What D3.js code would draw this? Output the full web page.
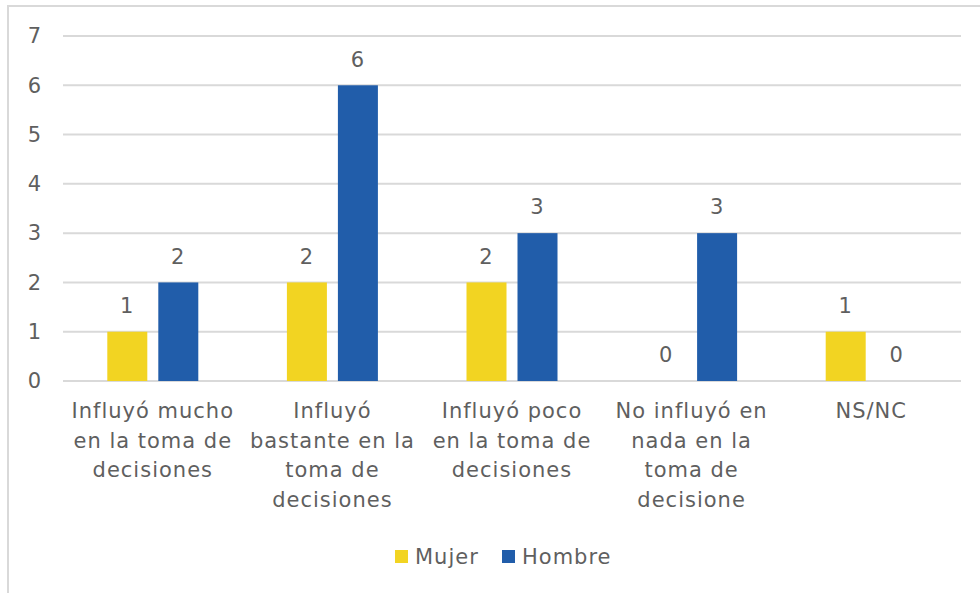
<!DOCTYPE html>
<html>
<head>
<meta charset="utf-8">
<script src="https://cdn.jsdelivr.net/npm/d3@7"></script>
<style>
  body { margin: 0; background: #fff; }
  text { font-family: "DejaVu Sans", sans-serif; fill: #5f5f5f; letter-spacing: 1px; }
</style>
</head>
<body>
<div id="chart-area"></div>
<script>
const categories = [
  ["Influyó mucho", "en la toma de", "decisiones"],
  ["Influyó", "bastante en la", "toma de", "decisiones"],
  ["Influyó poco", "en la toma de", "decisiones"],
  ["No influyó en", "nada en la", "toma de", "decisione"],
  ["NS/NC"]
]
const series = ["Mujer", "Hombre"]
const mujer = [1, 2, 2, 0, 1]
const hombre = [2, 6, 3, 3, 0]
const yTicks = [0, 1, 2, 3, 4, 5, 6, 7]
const colors = { Mujer: "#F2D422", Hombre: "#215DAA" }

const WIDTH = 980, HEIGHT = 593
const PLOT = { LEFT: 63, RIGHT: 961, TOP: 36, BOTTOM: 381 }
const FONT = "21px"

const svg = d3.select("#chart-area").append("svg")
  .attr("width", WIDTH)
  .attr("height", HEIGHT)

// chart border
svg.append("rect")
  .attr("x", 8).attr("y", 6)
  .attr("width", 1000).attr("height", 700)
  .attr("fill", "none")
  .attr("stroke", "#d9d9d9")
  .attr("stroke-width", 2)

const idx = d3.range(categories.length)

// Scales
const x0 = d3.scaleBand()
  .domain(idx)
  .range([PLOT.LEFT, PLOT.RIGHT])
  .paddingInner(0.4933)
  .paddingOuter(0.4933 / 2)

const x1 = d3.scaleBand()
  .domain(series)
  .range([0, x0.bandwidth()])
  .paddingInner(0.2157)

const y = d3.scaleLinear()
  .domain([0, 7])
  .range([PLOT.BOTTOM, PLOT.TOP])

// Gridlines
svg.append("g").selectAll("line")
  .data(yTicks)
  .enter().append("line")
  .attr("x1", PLOT.LEFT)
  .attr("x2", PLOT.RIGHT)
  .attr("y1", d => y(d))
  .attr("y2", d => y(d))
  .attr("stroke", "#d9d9d9")
  .attr("stroke-width", 2)

// Y tick labels
svg.append("g").selectAll("text")
  .data(yTicks)
  .enter().append("text")
  .attr("x", 42)
  .attr("y", d => y(d))
  .attr("dy", "0.35em")
  .attr("text-anchor", "end")
  .attr("font-size", FONT)
  .text(d => d)

// Bars
const rows = idx.map(i => ({ i, values: [
  { key: "Mujer", value: mujer[i] },
  { key: "Hombre", value: hombre[i] }
] }))

const groups = svg.append("g").selectAll("g")
  .data(rows)
  .enter().append("g")
  .attr("transform", d => `translate(${x0(d.i)}, 0)`)

groups.selectAll("rect")
  .data(d => d.values)
  .enter().append("rect")
  .attr("x", d => x1(d.key))
  .attr("y", d => y(d.value))
  .attr("width", x1.bandwidth())
  .attr("height", d => y(0) - y(d.value))
  .attr("fill", d => colors[d.key])

groups.selectAll("text")
  .data(d => d.values)
  .enter().append("text")
  .attr("x", d => x1(d.key) + x1.bandwidth() / 2)
  .attr("y", d => y(d.value) - 26)
  .attr("dy", "0.35em")
  .attr("text-anchor", "middle")
  .attr("font-size", FONT)
  .text(d => d.value)

// Category labels
const catLabels = svg.append("g").selectAll("text")
  .data(idx)
  .enter().append("text")
  .attr("x", i => x0(i) + x0.bandwidth() / 2)
  .attr("y", 411)
  .attr("text-anchor", "middle")
  .attr("font-size", FONT)

catLabels.selectAll("tspan")
  .data(i => categories[i].map((t, k) => ({ t, k, i })))
  .enter().append("tspan")
  .attr("x", d => x0(d.i) + x0.bandwidth() / 2)
  .attr("dy", d => d.k === 0 ? "0.35em" : "29.5px")
  .text(d => d.t)

// Legend
const legendX = [395, 502]
const legend = svg.append("g").selectAll("g")
  .data(series)
  .enter().append("g")
  .attr("transform", (d, k) => `translate(${legendX[k]}, 550)`)

legend.append("rect")
  .attr("width", 13)
  .attr("height", 13)
  .attr("fill", d => colors[d])

legend.append("text")
  .attr("x", 20)
  .attr("y", 7)
  .attr("dy", "0.35em")
  .attr("font-size", FONT)
  .text(d => d)
</script>
</body>
</html>
